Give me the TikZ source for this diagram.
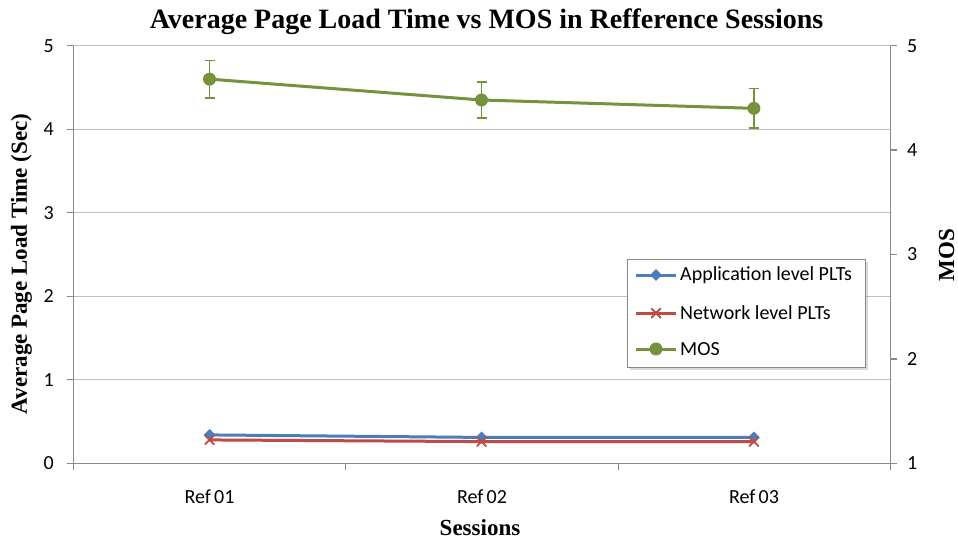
\documentclass[tikz,border=0pt]{standalone}
\usepackage{fontspec}
\setmainfont{Liberation Serif}
\newfontfamily\calib{Carlito}
\usetikzlibrary{shapes.geometric,shadows,calc}

\definecolor{appblue}{HTML}{4A7EBB}
\definecolor{netred}{HTML}{BE4B48}
\definecolor{mosgreen}{HTML}{76923C}
\definecolor{gridgray}{HTML}{BFBFBF}
\definecolor{axisgray}{HTML}{888888}

\begin{document}
\begin{tikzpicture}[x=1pt,y=-1pt,
  declare function={ly(\v)=463.3-83.52*\v; ry(\m)=463.3-104.4*(\m-1);},
  gridline/.style={gridgray,line width=1.1pt},
  axisline/.style={axisgray,line width=1.3pt},
  ticklab/.style={font=\calib\fontsize{20}{20}\selectfont,inner sep=0pt},
  axtitle/.style={font=\bfseries\fontsize{23}{23}\selectfont,inner sep=0pt},
  appline/.style={appblue,line width=3pt},
  netline/.style={netred,line width=3pt},
  mosline/.style={mosgreen,line width=3pt},
  appmark/.style={diamond,fill=appblue,minimum size=12pt,inner sep=0pt},
  mosmark/.style={circle,fill=mosgreen,minimum size=13pt,inner sep=0pt},
  netmark/.style={minimum size=10pt,inner sep=0pt,
    path picture={\draw[netred,line width=1.8pt]
      (path picture bounding box.north west)--(path picture bounding box.south east)
      (path picture bounding box.north east)--(path picture bounding box.south west);}},
  errbar/.style={mosgreen,line width=1.6pt},
  legtext/.style={font=\calib\fontsize{20}{20}\selectfont,anchor=west,inner sep=0pt}]

\useasboundingbox (0,0) rectangle (958,542);

% plot frame corners
\coordinate (pTL) at (73.3,45.7);
\coordinate (pTR) at (890.7,45.7);
\coordinate (pBL) at (73.3,463.3);
\coordinate (pBR) at (890.7,463.3);

% horizontal gridlines
\foreach \k in {1,...,5}
  \draw[gridline] (73.3,{ly(\k)}) -- (890.7,{ly(\k)});

% axes
\draw[axisline] (pTL) -- (pBL) -- (pBR);
\draw[axisline] (pTR) -- (pBR);

% left ticks and labels
\foreach \k in {0,...,5}{
  \draw[axisline] (66.7,{ly(\k)}) -- (73.3,{ly(\k)});
  \node[ticklab,anchor=east] (yl\k) at (54,{ly(\k)}) {\k};
}
% right ticks and labels
\foreach \k in {1,...,5}{
  \draw[axisline] (890.7,{ry(\k)}) -- (896.7,{ry(\k)});
  \node[ticklab,anchor=west] (yr\k) at (907,{ry(\k)}) {\k};
}
% category ticks
\foreach \c in {0,...,3}
  \draw[axisline] ({73.3+272.47*\c},463.3) -- ({73.3+272.47*\c},470.3);

% category labels
\node[ticklab] (c1) at (209.5,497) {Ref\,01};
\node[ticklab] (c2) at (482,497) {Ref\,02};
\node[ticklab] (c3) at (754,497) {Ref\,03};

% data points
\coordinate (A1) at (209.5,{ly(0.34)});
\coordinate (A2) at (481.5,{ly(0.31)});
\coordinate (A3) at (753.9,{ly(0.31)});
\coordinate (N1) at (209.5,{ly(0.28)});
\coordinate (N2) at (481.5,{ly(0.26)});
\coordinate (N3) at (753.9,{ly(0.26)});
\coordinate (M1) at (209.5,{ry(4.68)});
\coordinate (M2) at (481.5,{ry(4.48)});
\coordinate (M3) at (753.9,{ry(4.40)});

% application level PLTs
\draw[appline] (A1) -- (A2) -- (A3);
\foreach \i in {1,2,3} \node[appmark] (am\i) at (A\i) {};

% network level PLTs
\draw[netline] (N1) -- (N2) -- (N3);
\foreach \i in {1,2,3} \node[netmark] (nm\i) at (N\i) {};

% MOS with error bars
\foreach \i/\x/\m/\e in {1/209.5/4.68/0.18,2/481.5/4.48/0.17,3/753.9/4.40/0.19}{
  \coordinate (Et\i) at (\x,{ry(\m+\e)});
  \coordinate (Eb\i) at (\x,{ry(\m-\e)});
  \draw[errbar] (Et\i) -- (Eb\i);
  \draw[errbar] ([xshift=-5pt]Et\i) -- ([xshift=5pt]Et\i);
  \draw[errbar] ([xshift=-5pt]Eb\i) -- ([xshift=5pt]Eb\i);
}
\draw[mosline] (M1) -- (M2) -- (M3);
\foreach \i in {1,2,3} \node[mosmark] (mm\i) at (M\i) {};

% legend
\node[draw=axisgray,line width=1pt,fill=white,
      drop shadow={shadow xshift=2.5pt,shadow yshift=-2.5pt,opacity=0.3},
      minimum width=238pt,minimum height=108pt,inner sep=0pt] (legend) at (746,313) {};
\foreach \r/\y in {1/275,2/313,3/349}{
  \coordinate (ls\r) at (636,\y);
  \coordinate (le\r) at (676,\y);
}
\draw[appline] (ls1) -- (le1);
\node[appmark] (lm1) at ($(ls1)!0.5!(le1)$) {};
\node[legtext] (lt1) at (680,275) {Application level PLTs};
\draw[netline] (ls2) -- (le2);
\node[netmark] (lm2) at ($(ls2)!0.5!(le2)$) {};
\node[legtext] (lt2) at (680,313) {Network level PLTs};
\draw[mosline] (ls3) -- (le3);
\node[mosmark] (lm3) at ($(ls3)!0.5!(le3)$) {};
\node[legtext] (lt3) at (680,349) {MOS};

% titles
\node[font=\bfseries\fontsize{28}{28}\selectfont,inner sep=0pt,anchor=base] (title)
  at (486.5,28.5) {Average Page Load Time vs MOS in Refference Sessions};
\node[axtitle,anchor=base] (xtitle) at (480,535) {Sessions};
\node[axtitle,anchor=base,rotate=90] (ytitle) at (27,264) {Average Page Load Time (Sec)};
\node[axtitle,anchor=base,rotate=90] (y2title) at (954,255) {MOS};

\end{tikzpicture}
\end{document}
